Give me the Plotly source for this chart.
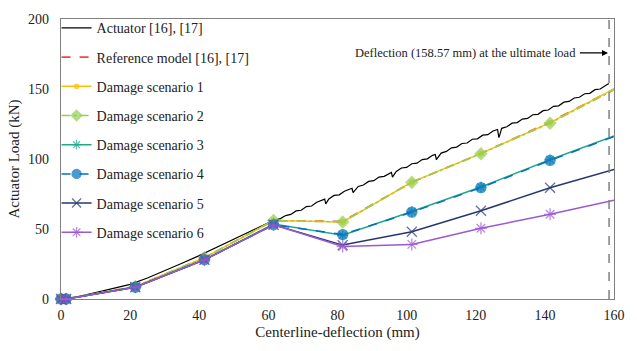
import plotly.graph_objects as go

# ---- data ----
act_x = [0, 5, 10, 15, 20, 25, 30, 35, 40, 45, 50, 55, 60, 62,
         63.5, 65, 66.5, 68, 69.5, 71, 72.5, 74, 75.5, 76.3, 76.6, 77.5, 79, 80.5, 82, 83.5,
         84.2, 84.5, 86, 87.5, 89, 90.5, 92, 93.5, 95, 95.6, 95.9, 97, 98.5, 100, 101.5,
         103, 104.5, 106, 107.5, 108.3, 108.6, 110, 111.5, 113, 114.5, 116, 117.5, 119,
         120.5, 122, 123.5, 125, 126.3, 126.7, 127.0, 127.5, 129, 130.5, 132, 133.5, 135,
         136.5, 138, 139.5, 141, 142.5, 144, 145.5, 147, 148.5, 150, 151.5, 153, 154.5,
         156, 157.5, 158.5]
act_y = [0, 1.8, 4.5, 7.5, 10.5, 15, 20, 25.5, 31, 37, 43, 49, 54.5, 56.5,
         57.4, 59.6, 60.4, 62.9, 63.4, 66.0, 66.4, 69.1, 70.3, 71.3, 68.0, 71.4, 74.0, 74.4, 77.0, 78.2,
         79.1, 75.9, 80.4, 81.4, 84.0, 84.5, 87.1, 87.6, 89.9, 90.4, 87.0, 91.1, 93.6, 94.0, 96.6,
         97.0, 99.6, 100.1, 102.6, 103.2, 99.6, 104.2, 105.4, 108.0, 108.5, 111.1, 111.4, 114.1,
         114.4, 117.0, 117.4, 120.0, 121.1, 115.3, 117.6, 121.9, 123.0, 125.6, 126.0, 128.5, 129.0,
         131.6, 131.9, 134.5, 135.0, 137.6, 138.0, 140.6, 141.1, 143.6, 144.1, 146.6, 146.9, 149.5,
         150.0, 152.6, 154.0]

dmg_x = [0, 1.5, 21.5, 41.5, 61.5, 81.5, 101.5, 121.5, 141.5, 160]
ref_y = [0, 0, 9, 29.5, 56, 55.5, 83.5, 104, 126.5, 150]
s1_y = [0, 0, 9, 29.5, 56, 55, 83.5, 104, 126, 150]
s2_y = [0, 0, 9, 29.5, 56, 55, 83.3, 103.8, 125.6, 149.3]
s3_y = [0, 0, 8.5, 28, 53.5, 45.5, 62.5, 80, 99.5, 116.5]
s4_y = [0, 0, 8.4, 28, 53, 46, 62, 79.5, 99, 116]
s5_y = [0, 0, 8.4, 28, 53, 38.5, 48, 63, 79.5, 92.5]
s6_y = [0, 0, 8.4, 28, 53, 37.5, 39, 50.5, 60.5, 70.5]

ult_defl = 158.57
x_ticks = [0, 20, 40, 60, 80, 100, 120, 140, 160]
y_ticks = [0, 50, 100, 150, 200]

FONT = "Liberation Serif"

fig = go.Figure()

def sizes(n, s):
    return [s] * (n - 1) + [0]

fig.add_trace(go.Scatter(x=act_x, y=act_y, mode="lines", name="Actuator [16], [17]",
                         line=dict(color="#000000", width=1.2), legendgroup="a"))
fig.add_trace(go.Scatter(x=dmg_x, y=ref_y, mode="lines", name="Reference model [16], [17]",
                         line=dict(color="#EE4A40", width=1.6, dash="dash"), legendgroup="b"))

series = [
    ("Damage scenario 1", s1_y, "#FFC000", "solid", "circle", 5, "c"),
    ("Damage scenario 2", s2_y, "#92D050", "dashdot", "diamond", 9, "d"),
    ("Damage scenario 3", s3_y, "#1FA88A", "solid", "asterisk-open", 9, "e"),
    ("Damage scenario 4", s4_y, "#0070C0", "dash", "circle", 10, "f"),
    ("Damage scenario 5", s5_y, "#27376E", "solid", "x-thin-open", 10, "g"),
    ("Damage scenario 6", s6_y, "#9B59D0", "solid", "asterisk-open", 10, "h"),
]
for name, ys, col, dash, sym, sz, grp in series:
    fig.add_trace(go.Scatter(
        x=dmg_x, y=ys, mode="lines+markers", name=name, legendgroup=grp,
        line=dict(color=col, width=1.5, dash=dash),
        marker=dict(symbol=sym, size=sizes(len(dmg_x), sz), color=col,
                    line=dict(color=col, width=1.3)),
        cliponaxis=False))

fig.add_shape(type="line", x0=ult_defl, x1=ult_defl, y0=0, y1=200, xref="x", yref="y",
              line=dict(color="#808080", width=1.5, dash="dash"))

fig.add_annotation(x=149.5, y=175.5, xref="x", yref="y", text="Deflection (158.57 mm) at the ultimate load",
                   showarrow=False, xanchor="right", yanchor="middle",
                   font=dict(family=FONT, size=12.5, color="#222222"))
fig.add_annotation(x=ult_defl - 0.3, y=175.8, ax=149.7, ay=175.8, xref="x", yref="y",
                   axref="x", ayref="y", text="", showarrow=True, arrowhead=2, arrowsize=1,
                   arrowwidth=1.2, arrowcolor="#000000")

fig.update_layout(
    width=637, height=351,
    margin=dict(l=61, r=14, t=12, b=52),
    paper_bgcolor="white", plot_bgcolor="white",
    font=dict(family=FONT, size=14, color="#222222"),
    showlegend=True,
    legend=dict(x=-0.008, y=1.024, xanchor="left", yanchor="top",
                bgcolor="rgba(0,0,0,0)", maxheight=330,
                font=dict(family=FONT, size=14, color="#222222"), tracegroupgap=8,
                traceorder="grouped"),
    xaxis=dict(range=[0, 160], tickvals=x_ticks, showgrid=False, zeroline=False,
               showline=True, linecolor="#808080", linewidth=1.2, mirror=True, ticks="",
               ticklabelstandoff=3,
               title=dict(text="Centerline-deflection (mm)", font=dict(family=FONT, size=15), standoff=4),
               tickfont=dict(family=FONT, size=14)),
    yaxis=dict(range=[0, 200], tickvals=y_ticks, showgrid=False, zeroline=False,
               showline=True, linecolor="#808080", linewidth=1.2, mirror=True, ticks="",
               ticklabelstandoff=8,
               title=dict(text="Actuator Load (kN)", font=dict(family=FONT, size=15), standoff=4),
               tickfont=dict(family=FONT, size=14)),
)

fig.write_html("out.html")
